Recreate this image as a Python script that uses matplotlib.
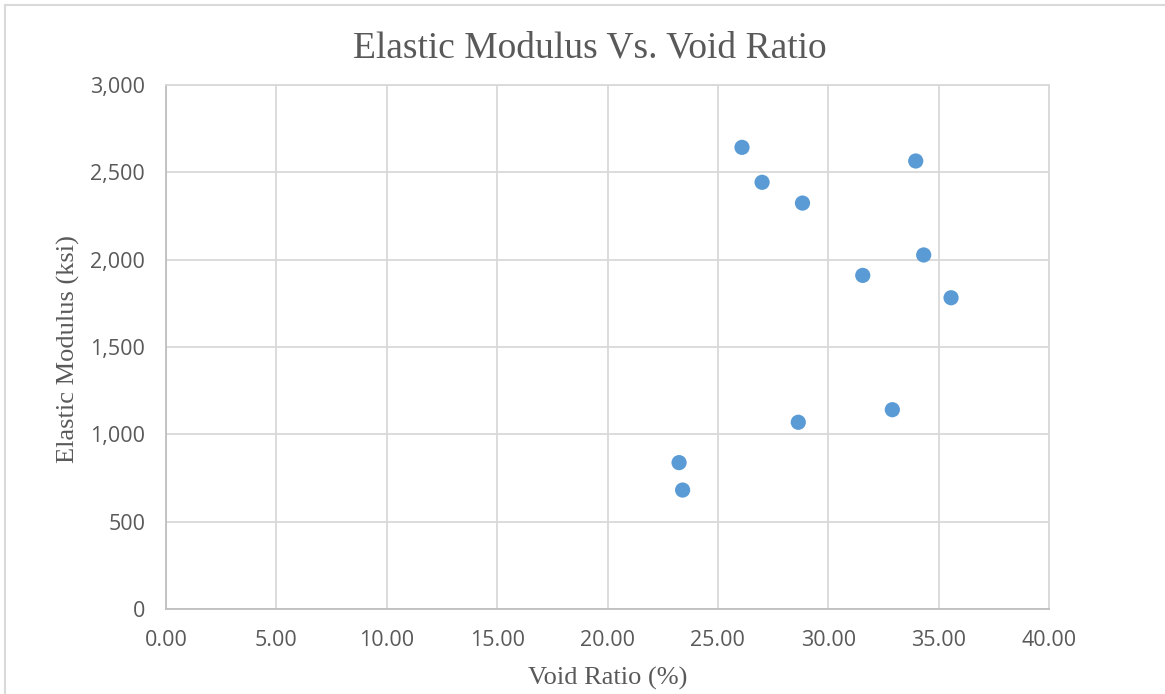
import matplotlib.pyplot as plt
from matplotlib.patches import Rectangle
from matplotlib.ticker import FuncFormatter

# void ratio (%) and elastic modulus (ksi) per specimen
void_ratio = [26.09, 27.00, 28.83, 33.96, 34.32, 31.56, 35.56, 32.90, 28.64, 23.24, 23.40]
elastic_modulus = [2643, 2443, 2324, 2565, 2027, 1910, 1782, 1141, 1069, 838, 681]

x_ticks = [0, 5, 10, 15, 20, 25, 30, 35, 40]
y_ticks = [0, 500, 1000, 1500, 2000, 2500, 3000]

GRID = "#D9D9D9"
TEXT = "#595959"
POINT = "#5B9BD5"

fig = plt.figure(figsize=(11.65, 6.94), dpi=100)
ax = fig.add_axes([0.1425, 0.1225, 0.7580, 0.7550])

ax.scatter(void_ratio, elastic_modulus, s=120, color=POINT, edgecolors="none", zorder=3)

ax.set_xlim(0, 40)
ax.set_ylim(0, 3000)
ax.set_xticks(x_ticks)
ax.set_yticks(y_ticks)
ax.xaxis.set_major_formatter(FuncFormatter(lambda v, _: f"{v:.2f}"))
ax.yaxis.set_major_formatter(FuncFormatter(lambda v, _: f"{int(v):,}"))
ax.tick_params(length=0, labelsize=15.5, labelcolor=TEXT, pad=15)
for lbl in ax.get_xticklabels() + ax.get_yticklabels():
    lbl.set_family("Open Sans")

ax.grid(True, color=GRID, linewidth=1.3)
ax.set_axisbelow(True)
for side, spine in ax.spines.items():
    spine.set_color("#BFBFBF" if side in ("left", "bottom") else GRID)
    spine.set_linewidth(1.3)

fig.text(0.506, 0.931, "Elastic Modulus Vs. Void Ratio", ha="center", va="center",
         family="Liberation Serif", fontsize=27, color=TEXT)
fig.text(0.5215, 0.023, "Void Ratio (%)", ha="center", va="center",
         family="Liberation Serif", fontsize=19, color=TEXT)
fig.text(0.0584, 0.497, "Elastic Modulus (ksi)", ha="center", va="center", rotation=90,
         family="Liberation Serif", fontsize=19, color=TEXT)

# chart border
fig.add_artist(Rectangle((5 / 1165, -0.05), 1.2, 1 - 5 / 694 + 0.05,
                         transform=fig.transFigure, fill=False,
                         edgecolor=GRID, linewidth=1.5))

fig.savefig("out.png", dpi=100)
